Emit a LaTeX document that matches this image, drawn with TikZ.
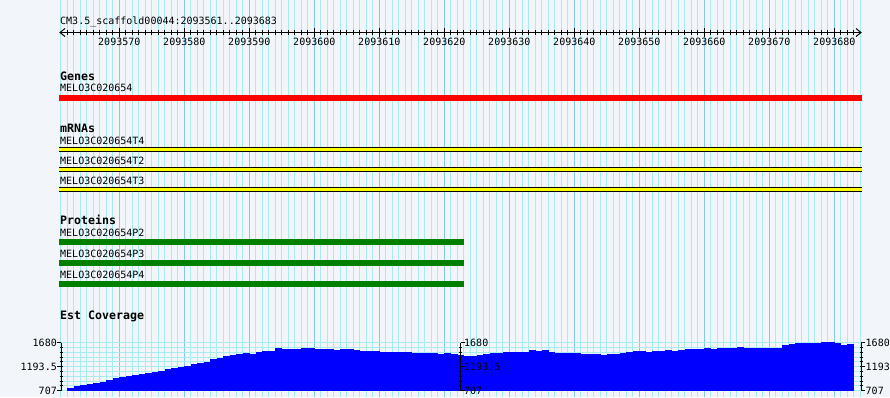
\documentclass[tikz,border=0pt]{standalone}
\usepackage{fontspec}
\newfontfamily\monofont{DejaVu Sans Mono}
\definecolor{bgc}{HTML}{F2F6FB}
\definecolor{gridc}{HTML}{A8ECF0}
\definecolor{majc}{HTML}{84C8EC}
\definecolor{genered}{HTML}{FF0000}
\definecolor{mrnay}{HTML}{FFFF00}
\definecolor{protg}{HTML}{008000}
\definecolor{covb}{HTML}{0000FF}
\tikzset{
  lbl/.style={font=\monofont\fontsize{10}{12}\selectfont, inner sep=0pt, text=black},
  hdr/.style={font=\monofont\bfseries\fontsize{11.6}{13}\selectfont, inner sep=0pt, text=black, anchor=base west},
  trk/.style={lbl, anchor=base west},
  gline/.style={gridc, line width=1pt},
  mline/.style={majc, line width=1pt},
  axl/.style={black, line width=1pt},
}
\begin{document}
\begin{tikzpicture}[x=1pt,y=-1pt]
\useasboundingbox[fill=bgc] (0,0) rectangle (890,397);
% vertical grid
\foreach \i in {0,...,123} \draw[gline] ({60.8+6.5*\i},0) -- ({60.8+6.5*\i},397);
\foreach \j in {0,...,11} \draw[mline] ({119.3+65*\j},0) -- ({119.3+65*\j},397);
% horizontal grid of coverage chart
\foreach \j in {0,...,10} \draw[gline] (60.8,{342.7+4.8*\j}) -- (860.3,{342.7+4.8*\j});
% title and ruler
\node[trk] (title) at (60,24.5) {CM3.5\_scaffold00044:2093561..2093683};
\coordinate (rl) at (60,32.5);
\coordinate (rr) at (861,32.5);
\draw[axl] (rl) -- (rr);
\draw[axl] (65,28.5) -- (rl) -- (65,36.5);
\draw[axl] (856,28.5) -- (rr) -- (856,36.5);
\foreach \i in {1,...,122} \draw[axl] ({60.8+6.5*\i},29.7) -- ({60.8+6.5*\i},35.3);
\foreach \j in {0,...,11} {
  \draw[axl] ({119.3+65*\j},27.7) -- ({119.3+65*\j},37.3);
  \node[lbl, anchor=base] (tk\j) at ({119.3+65*\j},45.7) {2093\the\numexpr570+10*\j\relax};
}
% Genes
\node[hdr] (hgenes) at (60,80) {Genes};
\node[trk] (g1) at (60,91.7) {MELO3C020654};
\fill[genered] (59,95) rectangle (862,100.7);
% mRNAs
\node[hdr] (hmrna) at (60,132.3) {mRNAs};
\foreach \n/\b in {T4/144, T2/164, T3/184} {
  \node[trk] (m\n) at (60,\b) {MELO3C020654\n};
  \fill[mrnay] (59,\b+3) rectangle (862,\b+7.7);
  \draw[black, line width=1pt] (59,\b+3.5) -- (862,\b+3.5);
  \draw[black, line width=1pt] (59,\b+7.2) -- (862,\b+7.2);
}
% Proteins
\node[hdr] (hprot) at (60,224) {Proteins};
\foreach \n/\b in {P2/236, P3/257.3, P4/278.3} {
  \node[trk] (p\n) at (60,\b) {MELO3C020654\n};
  \fill[protg] (59,\b+3) rectangle (464,\b+8.7);
}
% Est Coverage
\node[hdr] (hcov) at (60,319) {Est Coverage};
\foreach \Y [count=\k] in {158,153,150,147,144,141,135,129,126,123,
  120,117,114,111,107,102,99,96,92,88,
  84,80,73,69,63,60,57,54,57,51,
  48,48,39,42,42,42,39,39,42,42,
  42,45,42,42,45,48,48,48,51,51,
  51,51,51,54,54,54,54,57,54,57,
  60,63,63,60,57,54,54,51,51,51,
  51,45,48,45,51,54,54,54,54,57,
  57,57,60,57,57,54,51,48,48,51,
  48,48,45,48,45,42,42,42,39,42,
  39,39,39,36,39,39,39,39,39,39,
  30,27,24,24,24,24,21,21,24,30,27}
  \fill[covb] ({60.8+6.5*\k},391) rectangle ({67.6+6.5*\k},{335+\Y/3});
% axes of coverage
\foreach \ax/\dir in {61/-1, 460.7/1, 861/1} {
  \draw[axl] (\ax,342.7) -- (\ax,390.7);
  \foreach \t in {1,...,9} \draw[axl] ({\ax-1.5},{342.7+4.8*\t}) -- ({\ax+1.5},{342.7+4.8*\t});
  \foreach \t in {0,5,10} \draw[axl] (\ax,{342.7+4.8*\t}) -- ({\ax+4*\dir},{342.7+4.8*\t});
}
\node[lbl, anchor=east] (l1) at (57,342.7) {1680};
\node[lbl, anchor=east] (l2) at (57,366.7) {1193.5};
\node[lbl, anchor=east] (l3) at (57,390.7) {707};
\node[lbl, anchor=west] (c1) at (464,342.7) {1680};
\node[lbl, anchor=west] (c2) at (464,366.7) {1193.5};
\node[lbl, anchor=west] (c3) at (464,390.7) {707};
\node[lbl, anchor=west] (r1) at (865.5,342.7) {1680};
\node[lbl, anchor=west] (r2) at (865.5,366.7) {1193};
\node[lbl, anchor=west] (r3) at (865.5,390.7) {707};
\end{tikzpicture}
\end{document}
